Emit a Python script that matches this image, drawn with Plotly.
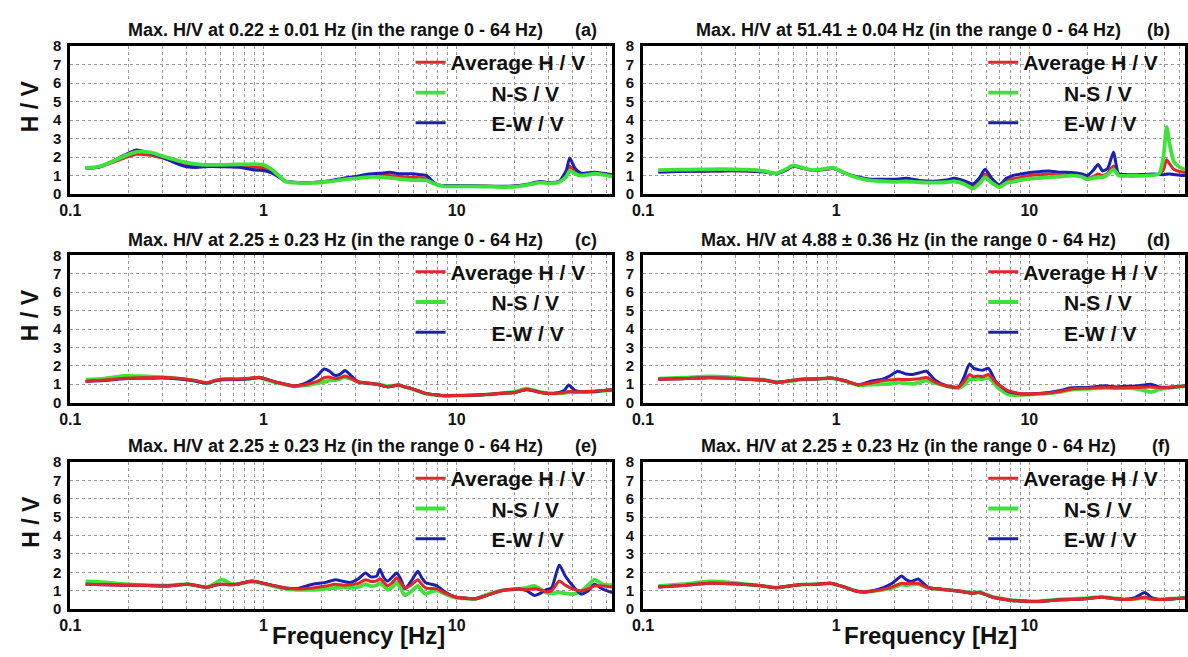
import plotly.graph_objects as go

W, H = 1188, 657
FONT = "Liberation Sans, Arial, sans-serif"

# ---------------- data ----------------
freq_a = [0.12, 0.14, 0.16, 0.19, 0.22, 0.26, 0.30, 0.35, 0.40, 0.45, 0.50, 0.60, 0.75, 0.90, 1.0, 1.1, 1.2, 1.3, 1.5,
          1.8, 2.2, 2.6, 3.0, 3.5, 4.0, 4.5, 5.0, 5.8, 6.5, 7.0, 7.5, 8.0, 8.7, 10, 12, 15, 18, 21, 24, 27, 30, 34, 37,
          38.5, 41, 44, 48, 52, 57, 64]
avg_a = [1.40, 1.45, 1.65, 1.95, 2.15, 2.10, 1.95, 1.75, 1.60, 1.55, 1.50, 1.50, 1.50, 1.45, 1.42, 1.25, 0.95, 0.70,
         0.62, 0.62, 0.70, 0.82, 0.90, 1.00, 1.02, 1.00, 0.95, 0.90, 0.88, 0.85, 0.65, 0.50, 0.45, 0.45, 0.44, 0.42,
         0.40, 0.45, 0.55, 0.65, 0.60, 0.68, 1.10, 1.50, 1.20, 1.05, 1.10, 1.15, 1.10, 1.00]
ns_a = [1.40, 1.48, 1.70, 2.05, 2.28, 2.25, 2.05, 1.85, 1.70, 1.62, 1.58, 1.58, 1.60, 1.62, 1.58, 1.35, 1.00, 0.68,
        0.60, 0.60, 0.68, 0.78, 0.85, 0.92, 0.92, 0.88, 0.82, 0.76, 0.76, 0.74, 0.60, 0.48, 0.42, 0.42, 0.42, 0.40,
        0.38, 0.42, 0.52, 0.62, 0.58, 0.65, 0.95, 1.27, 1.10, 1.00, 1.05, 1.10, 1.05, 0.95]
ew_a = [1.40, 1.45, 1.70, 2.10, 2.38, 2.20, 1.98, 1.68, 1.48, 1.44, 1.48, 1.48, 1.45, 1.30, 1.28, 1.15, 0.92, 0.70,
        0.62, 0.62, 0.72, 0.86, 0.95, 1.08, 1.12, 1.18, 1.10, 1.10, 1.05, 1.00, 0.68, 0.50, 0.46, 0.46, 0.45, 0.43,
        0.42, 0.46, 0.56, 0.68, 0.62, 0.70, 1.30, 1.95, 1.40, 1.13, 1.15, 1.18, 1.12, 1.05]

freq_b = [0.12, 0.15, 0.2, 0.25, 0.3, 0.35, 0.42, 0.49, 0.55, 0.60, 0.67, 0.75, 0.85, 0.97, 1.1, 1.25, 1.45, 1.7, 2.0,
          2.3, 2.7, 3.2, 3.7, 4.1, 4.6, 5.1, 5.5, 5.9, 6.4, 7.0, 7.6, 8.2, 9.0, 10, 11.5, 12.6, 14.5, 16.5, 18.5, 20,
          21.5, 22.7, 24, 25.5, 27.3, 29, 32, 36, 40, 44, 47, 49.5, 51.4, 53.5, 56, 60, 64]
avg_b = [1.20, 1.22, 1.24, 1.25, 1.26, 1.25, 1.20, 1.10, 1.30, 1.50, 1.40, 1.28, 1.32, 1.38, 1.15, 0.95, 0.80, 0.75,
         0.70, 0.72, 0.68, 0.66, 0.70, 0.76, 0.65, 0.45, 0.70, 1.08, 0.70, 0.45, 0.70, 0.83, 0.90, 1.00, 1.05, 1.08,
         1.02, 1.05, 1.00, 0.85, 0.95, 1.08, 1.00, 1.15, 1.52, 1.05, 1.02, 1.00, 1.02, 1.05, 1.08, 1.30, 1.85, 1.60,
         1.34, 1.22, 1.17]
ns_b = [1.30, 1.32, 1.33, 1.35, 1.34, 1.32, 1.25, 1.12, 1.35, 1.55, 1.42, 1.30, 1.35, 1.42, 1.15, 0.92, 0.76, 0.70,
        0.66, 0.68, 0.64, 0.62, 0.64, 0.68, 0.55, 0.30, 0.55, 0.90, 0.60, 0.38, 0.60, 0.66, 0.75, 0.83, 0.88, 0.90,
        0.95, 1.00, 0.95, 0.80, 0.88, 0.90, 0.92, 1.05, 1.34, 1.00, 0.98, 0.98, 1.00, 1.02, 1.10, 2.00, 3.63, 2.60,
        1.76, 1.45, 1.34]
ew_b = [1.20, 1.22, 1.24, 1.25, 1.26, 1.25, 1.20, 1.10, 1.30, 1.50, 1.40, 1.28, 1.32, 1.38, 1.15, 0.96, 0.82, 0.80,
        0.80, 0.85, 0.74, 0.70, 0.76, 0.85, 0.72, 0.55, 0.85, 1.34, 0.85, 0.50, 0.85, 1.00, 1.08, 1.17, 1.22, 1.25,
        1.18, 1.17, 1.10, 1.00, 1.30, 1.60, 1.25, 1.40, 2.27, 1.10, 1.05, 1.05, 1.06, 1.08, 1.06, 1.05, 1.08, 1.08,
        1.06, 1.02, 1.00]

freq_c = [0.12, 0.15, 0.19, 0.24, 0.30, 0.36, 0.43, 0.51, 0.56, 0.61, 0.73, 0.85, 0.95, 1.05, 1.15, 1.3, 1.44, 1.6,
          1.75, 1.9, 2.06, 2.2, 2.35, 2.5, 2.64, 2.85, 3.1, 3.5, 3.86, 4.4, 5.0, 5.4, 5.8, 6.4, 6.9, 7.8, 8.7, 10, 12,
          13.6, 15, 17, 20, 23, 26, 29, 33, 36, 38, 41, 45.6, 52, 57, 64]
avg_c = [1.15, 1.22, 1.32, 1.35, 1.36, 1.32, 1.22, 1.08, 1.20, 1.28, 1.28, 1.32, 1.38, 1.25, 1.12, 1.00, 0.90, 0.95,
         1.05, 1.15, 1.35, 1.38, 1.30, 1.35, 1.45, 1.30, 1.12, 1.05, 1.00, 0.86, 0.95, 0.85, 0.77, 0.62, 0.50, 0.42,
         0.37, 0.38, 0.40, 0.42, 0.45, 0.50, 0.55, 0.72, 0.60, 0.50, 0.50, 0.55, 0.60, 0.58, 0.60, 0.62, 0.65, 0.70]
ns_c = [1.25, 1.30, 1.45, 1.42, 1.38, 1.30, 1.20, 1.05, 1.18, 1.25, 1.26, 1.30, 1.36, 1.22, 1.10, 0.98, 0.88, 0.92,
        0.98, 1.05, 1.12, 1.20, 1.22, 1.30, 1.39, 1.28, 1.12, 1.05, 1.00, 0.88, 0.95, 0.84, 0.76, 0.60, 0.48, 0.40,
        0.36, 0.38, 0.40, 0.42, 0.45, 0.50, 0.58, 0.75, 0.62, 0.52, 0.50, 0.52, 0.55, 0.55, 0.58, 0.60, 0.63, 0.68]
ew_c = [1.15, 1.20, 1.30, 1.32, 1.34, 1.30, 1.20, 1.06, 1.18, 1.26, 1.26, 1.30, 1.36, 1.25, 1.12, 1.00, 0.90, 1.00,
        1.20, 1.45, 1.82, 1.70, 1.47, 1.55, 1.74, 1.45, 1.12, 1.05, 1.00, 0.85, 0.95, 0.85, 0.77, 0.62, 0.50, 0.42,
        0.37, 0.38, 0.40, 0.42, 0.45, 0.50, 0.55, 0.70, 0.60, 0.50, 0.52, 0.65, 0.95, 0.65, 0.58, 0.60, 0.65, 0.70]

freq_d = [0.12, 0.16, 0.22, 0.28, 0.34, 0.42, 0.49, 0.57, 0.66, 0.8, 0.93, 1.1, 1.3, 1.5, 1.74, 1.9, 2.08, 2.3, 2.5,
          2.7, 2.93, 3.27, 3.75, 4.3, 4.6, 4.9, 5.15, 5.4, 5.7, 6.15, 6.4, 6.7, 7.2, 7.7, 8.4, 9.2, 10.5, 12.6, 14.5,
          16.5, 20, 24.8, 28, 31, 36, 42.6, 47, 53, 58, 64]
avg_d = [1.27, 1.30, 1.35, 1.32, 1.27, 1.22, 1.10, 1.18, 1.27, 1.28, 1.33, 1.20, 0.97, 1.05, 1.20, 1.22, 1.27, 1.25,
         1.27, 1.30, 1.36, 1.10, 0.90, 0.83, 1.15, 1.53, 1.40, 1.45, 1.40, 1.53, 1.35, 1.10, 0.85, 0.66, 0.55, 0.48,
         0.48, 0.52, 0.60, 0.74, 0.78, 0.83, 0.80, 0.81, 0.82, 0.85, 0.80, 0.83, 0.86, 0.90]
ns_d = [1.30, 1.35, 1.42, 1.38, 1.30, 1.24, 1.10, 1.16, 1.25, 1.28, 1.33, 1.18, 0.95, 0.98, 1.00, 1.02, 1.10, 1.05,
        1.02, 1.10, 1.20, 1.05, 0.88, 0.80, 0.95, 1.27, 1.25, 1.30, 1.28, 1.36, 1.20, 0.95, 0.65, 0.45, 0.40, 0.42,
        0.45, 0.50, 0.58, 0.70, 0.75, 0.80, 0.78, 0.78, 0.75, 0.57, 0.72, 0.80, 0.85, 0.90]
ew_d = [1.27, 1.30, 1.35, 1.32, 1.27, 1.22, 1.10, 1.18, 1.27, 1.28, 1.33, 1.20, 0.97, 1.15, 1.27, 1.45, 1.70, 1.55,
        1.53, 1.62, 1.70, 1.20, 0.90, 0.85, 1.40, 2.10, 1.86, 1.80, 1.75, 1.86, 1.55, 1.15, 0.85, 0.62, 0.52, 0.46,
        0.48, 0.55, 0.65, 0.80, 0.82, 0.91, 0.85, 0.88, 0.90, 1.00, 0.85, 0.83, 0.86, 0.90]

freq_e = [0.12, 0.15, 0.19, 0.25, 0.32, 0.41, 0.51, 0.56, 0.61, 0.67, 0.73, 0.87, 1.0, 1.15, 1.3, 1.5, 1.8, 2.1, 2.35,
          2.6, 2.8, 3.1, 3.37, 3.6, 3.86, 4.0, 4.2, 4.4, 4.65, 4.9, 5.15, 5.4, 5.8, 6.3, 6.6, 6.9, 7.4, 7.9, 8.8, 9.9,
          11, 12.4, 14, 17, 21, 23, 25.3, 27, 29, 31, 34, 36.5, 40, 44, 48, 51.7, 57, 64]
avg_e = [1.35, 1.32, 1.30, 1.28, 1.26, 1.35, 1.18, 1.30, 1.35, 1.32, 1.35, 1.53, 1.40, 1.26, 1.15, 1.09, 1.15, 1.25,
         1.35, 1.30, 1.32, 1.40, 1.60, 1.50, 1.53, 1.65, 1.45, 1.26, 1.45, 1.70, 1.40, 1.15, 1.30, 1.60, 1.35, 1.15,
         1.12, 1.10, 0.85, 0.65, 0.60, 0.56, 0.70, 1.00, 1.09, 1.05, 1.10, 1.05, 0.95, 1.00, 1.53, 1.30, 1.09, 1.00,
         1.10, 1.26, 1.26, 1.20]
ns_e = [1.50, 1.45, 1.35, 1.30, 1.28, 1.35, 1.18, 1.40, 1.60, 1.40, 1.35, 1.50, 1.38, 1.22, 1.10, 1.05, 1.05, 1.10,
        1.15, 1.18, 1.15, 1.20, 1.35, 1.25, 1.30, 1.40, 1.25, 1.05, 1.20, 1.44, 1.10, 0.74, 0.95, 1.26, 1.00, 0.82,
        0.95, 1.00, 0.80, 0.62, 0.58, 0.55, 0.75, 1.00, 1.10, 1.15, 1.26, 1.10, 0.90, 0.85, 0.91, 0.85, 0.82, 0.95,
        1.30, 1.60, 1.35, 1.30]
ew_e = [1.35, 1.32, 1.30, 1.28, 1.26, 1.35, 1.18, 1.30, 1.35, 1.32, 1.35, 1.53, 1.40, 1.26, 1.15, 1.12, 1.35, 1.45,
        1.60, 1.50, 1.44, 1.65, 1.96, 1.75, 1.79, 2.17, 1.70, 1.53, 1.75, 1.96, 1.60, 1.09, 1.50, 2.05, 1.70, 1.44,
        1.35, 1.26, 0.90, 0.65, 0.60, 0.56, 0.70, 1.00, 1.09, 1.00, 0.74, 0.85, 1.05, 1.15, 2.40, 1.80, 1.26, 0.82,
        1.00, 1.35, 1.09, 0.90]

freq_f = [0.12, 0.16, 0.22, 0.28, 0.34, 0.42, 0.49, 0.57, 0.66, 0.8, 0.93, 1.1, 1.25, 1.39, 1.55, 1.74, 1.95, 2.18,
          2.3, 2.44, 2.66, 2.98, 3.55, 4.3, 5.1, 5.5, 5.9, 6.45, 7.2, 8.1, 9.5, 11, 14.5, 19, 23.7, 27, 31, 35, 39.6,
          43, 46.7, 55, 64]
avg_f = [1.20, 1.28, 1.40, 1.38, 1.33, 1.25, 1.16, 1.25, 1.33, 1.35, 1.40, 1.20, 1.00, 0.93, 0.98, 1.07, 1.20, 1.40,
         1.38, 1.40, 1.40, 1.16, 1.07, 0.98, 0.86, 0.90, 0.80, 0.64, 0.55, 0.47, 0.43, 0.41, 0.50, 0.55, 0.64, 0.58,
         0.52, 0.55, 0.64, 0.55, 0.52, 0.55, 0.60]
ns_f = [1.25, 1.35, 1.50, 1.45, 1.35, 1.25, 1.16, 1.25, 1.33, 1.35, 1.40, 1.20, 1.00, 0.93, 0.98, 1.05, 1.15, 1.33,
        1.30, 1.33, 1.35, 1.16, 1.07, 0.98, 0.88, 0.92, 0.82, 0.66, 0.57, 0.48, 0.44, 0.42, 0.52, 0.58, 0.66, 0.60,
        0.54, 0.56, 0.60, 0.56, 0.53, 0.56, 0.62]
ew_f = [1.20, 1.28, 1.40, 1.38, 1.33, 1.25, 1.16, 1.25, 1.33, 1.35, 1.40, 1.20, 1.00, 0.93, 1.00, 1.15, 1.40, 1.80,
        1.60, 1.50, 1.64, 1.20, 1.07, 0.98, 0.86, 0.90, 0.80, 0.64, 0.55, 0.47, 0.43, 0.41, 0.50, 0.55, 0.64, 0.58,
        0.52, 0.60, 0.90, 0.62, 0.52, 0.55, 0.60]

titles = ["Max. H/V at 0.22 \u00b1 0.01 Hz (in the range 0 - 64 Hz)",
          "Max. H/V at 51.41 \u00b1 0.04 Hz (in the range 0 - 64 Hz)",
          "Max. H/V at 2.25 \u00b1 0.23 Hz (in the range 0 - 64 Hz)",
          "Max. H/V at 4.88 \u00b1 0.36 Hz (in the range 0 - 64 Hz)",
          "Max. H/V at 2.25 \u00b1 0.23 Hz (in the range 0 - 64 Hz)",
          "Max. H/V at 2.25 \u00b1 0.23 Hz (in the range 0 - 64 Hz)"]
panel_tags = ["(a)", "(b)", "(c)", "(d)", "(e)", "(f)"]
PAD = "\u00a0" * 7
series_names = ["Average H / V", PAD + "N-S / V", PAD + "E-W / V"]
x_tick_vals = [0.1, 0.2, 0.3, 0.4, 0.5, 0.6, 0.7, 0.8, 0.9, 1, 2, 3, 4, 5, 6, 7, 8, 9, 10, 20, 30, 40, 50, 60]
x_tick_text = ["0.1"] + [""] * 8 + ["1"] + [""] * 8 + ["10"] + [""] * 5
y_tick_vals = [0, 1, 2, 3, 4, 5, 6, 7, 8]

panels = [
    (freq_a, avg_a, ns_a, ew_a),
    (freq_b, avg_b, ns_b, ew_b),
    (freq_c, avg_c, ns_c, ew_c),
    (freq_d, avg_d, ns_d, ew_d),
    (freq_e, avg_e, ns_e, ew_e),
    (freq_f, avg_f, ns_f, ew_f),
]

# ---------------- layout geometry (pixels) ----------------
col_x = [(60, 608), (639, 1187)]
row_y = [(38, 190), (253, 404), (465, 616)]

RED, GREEN, BLUE = "#e3262a", "#3fe23a", "#1c1fb0"
colors = [RED, GREEN, BLUE]
widths = [3.0, 3.8, 3.0]

fig = go.Figure()


def px_x(x):
    return x / W


def px_y(y):
    return 1 - y / H


for i, (fr, av, ns, ew) in enumerate(panels):
    r, c = divmod(i, 2)
    k = i + 1
    ax = "" if k == 1 else str(k)
    leg = "legend" if k == 1 else f"legend{k}"
    series = [av, ns, ew]
    order = [0, 2, 1] if r == 0 else [1, 2, 0]
    for s in order:
        fig.add_trace(go.Scatter(
            x=fr, y=series[s], mode="lines", name=series_names[s],
            line=dict(color=colors[s], width=widths[s], shape="spline", smoothing=0.6),
            xaxis="x" + ax, yaxis="y" + ax, legend=leg, legendrank=s + 1,
            showlegend=True, hoverinfo="skip"))
    x0, x1 = col_x[c]
    y0, y1 = row_y[r]
    axis_common = dict(showline=True, linewidth=3, linecolor="black", mirror=True,
                       showgrid=True, gridcolor="#9a9a9a", gridwidth=1, griddash="dot",
                       zeroline=False, ticks="")
    fig.update_layout({
        "xaxis" + ax: dict(axis_common, type="log", domain=[px_x(x0), px_x(x1)],
                           range=[-1, 1.80618], tickvals=x_tick_vals, ticktext=x_tick_text,
                           anchor="y" + ax,
                           tickfont=dict(family=FONT, size=16, color="#111", weight="bold")),
        "yaxis" + ax: dict(axis_common, domain=[px_y(y1), px_y(y0)], range=[0, 8],
                           tickvals=y_tick_vals, anchor="x" + ax, ticklabelstandoff=3,
                           tickfont=dict(family=FONT, size=15, color="#111", weight="bold")),
        leg: dict(x=px_x(x1 - 204), y=px_y(y0 - 4), xanchor="left", yanchor="top",
                  bgcolor="rgba(0,0,0,0)", borderwidth=0, tracegroupgap=0,
                  font=dict(family=FONT, size=21, color="#111", weight="bold")),
    })
    # panel title and tag
    fig.add_annotation(x=px_x((x0 + x1) / 2 - 6), y=px_y(y0 - 16), xref="paper", yref="paper",
                       text=titles[i], showarrow=False, xanchor="center", yanchor="middle",
                       font=dict(family=FONT, size=18, color="#111", weight="bold"))
    fig.add_annotation(x=px_x(x1 - 13), y=px_y(y0 - 16), xref="paper", yref="paper",
                       text=panel_tags[i], showarrow=False, xanchor="right", yanchor="middle",
                       font=dict(family=FONT, size=18, color="#111", weight="bold"))
    if c == 0:
        fig.add_annotation(x=px_x(20), y=px_y((y0 + y1) / 2 - 14), xref="paper", yref="paper",
                           text="H / V", textangle=-90, showarrow=False,
                           xanchor="center", yanchor="middle",
                           font=dict(family=FONT, size=23, color="#111", weight="bold"))
    if r == 2:
        fig.add_annotation(x=px_x(x0 + 291), y=px_y(643), xref="paper", yref="paper",
                           text="Frequency [Hz]", showarrow=False,
                           xanchor="center", yanchor="middle",
                           font=dict(family=FONT, size=24, color="#111", weight="bold"))

fig.update_layout(width=W, height=H, margin=dict(l=0, r=0, t=0, b=0),
                  paper_bgcolor="white", plot_bgcolor="white", showlegend=True)

fig.write_html("out.html")
